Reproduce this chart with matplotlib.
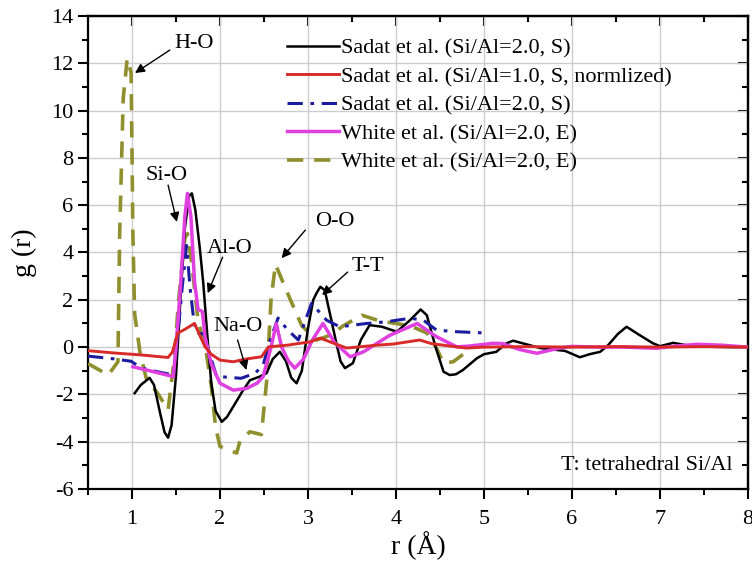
import matplotlib
matplotlib.use("Agg")
import matplotlib.pyplot as plt
from matplotlib.ticker import MultipleLocator

plt.rcParams['font.family'] = ['Liberation Serif', 'DejaVu Serif']
plt.rcParams['axes.unicode_minus'] = False
plt.rcParams['mathtext.fontset'] = 'stix'

# ---- data ----
black_x = [1.03, 1.1, 1.2, 1.25, 1.32, 1.37, 1.41, 1.45, 1.5, 1.55, 1.6, 1.65, 1.68, 1.72, 1.77, 1.81,
           1.86, 1.9, 1.95, 2.02, 2.08, 2.15, 2.25, 2.34, 2.45, 2.53, 2.6, 2.68, 2.75, 2.81, 2.87, 2.93,
           3.0, 3.06, 3.1, 3.14, 3.19, 3.25, 3.32, 3.37, 3.42, 3.51, 3.6, 3.7, 3.84, 4.01, 4.16, 4.28,
           4.35, 4.45, 4.54, 4.61, 4.68, 4.76, 4.92, 5.0, 5.14, 5.25, 5.33, 5.45, 5.64, 5.92, 6.09, 6.2,
           6.32, 6.41, 6.52, 6.62, 6.75, 6.92, 7.0, 7.15, 7.3, 7.5, 7.8, 8.0]
black_y = [-1.95, -1.6, -1.3, -1.6, -2.8, -3.6, -3.83, -3.3, -1.2, 2.0, 5.0, 6.4, 6.5, 5.8, 4.2, 2.7,
           0.3, -1.5, -2.7, -3.16, -2.95, -2.52, -1.9, -1.4, -1.25, -1.1, -0.5, -0.2, -0.6, -1.3, -1.53, -1.0,
           0.8, 2.0, 2.3, 2.55, 2.41, 1.4, 0.2, -0.6, -0.89, -0.68, 0.3, 0.93, 0.86, 0.65, 1.14, 1.59,
           1.35, 0.0, -1.04, -1.18, -1.15, -0.97, -0.47, -0.3, -0.2, 0.15, 0.27, 0.15, -0.04, -0.16, -0.43, -0.3,
           -0.2, 0.08, 0.55, 0.86, 0.55, 0.16, 0.04, 0.18, 0.08, 0.02, 0.0, 0.0]

red_x = [0.5, 0.8, 1.1, 1.41, 1.46, 1.52, 1.6, 1.71, 1.77, 1.83, 1.9, 2.0, 2.15, 2.3, 2.47, 2.55,
         2.76, 3.02, 3.14, 3.3, 3.44, 3.78, 3.97, 4.27, 4.4, 4.54, 4.8, 5.0, 5.5, 6.0, 6.5, 7.0, 7.5, 8.0]
red_y = [-0.15, -0.25, -0.33, -0.44, -0.2, 0.59, 0.75, 1.0, 0.5, 0.01, -0.3, -0.55, -0.62, -0.5, -0.41, 0.01,
         0.08, 0.22, 0.38, 0.15, -0.04, 0.08, 0.13, 0.3, 0.15, 0.08, -0.04, 0.0, 0.02, 0.0, 0.02, 0.0, 0.02, 0.0]

blue_x = [0.5, 0.8, 0.99, 1.05, 1.125, 1.3, 1.47, 1.52, 1.57, 1.62, 1.66, 1.7, 1.73, 1.82, 1.9, 1.96,
          2.0, 2.24, 2.4, 2.49, 2.57, 2.66, 2.77, 2.89, 3.04, 3.21, 3.36, 3.67, 3.89, 4.16, 4.31, 4.46,
          4.69, 5.0]
blue_y = [-0.38, -0.5, -0.6, -0.75, -0.9, -1.05, -1.18, 0.5, 2.5, 4.3, 2.5, 1.2, 0.6, 0.55, -0.5, -1.22,
          -1.25, -1.32, -1.1, -0.76, 0.3, 1.23, 0.72, 0.3, 1.85, 1.14, 0.86, 1.0, 1.07, 1.22, 1.14, 0.72,
          0.65, 0.6]

mag_x = [1.01, 1.2, 1.47, 1.5, 1.55, 1.6, 1.63, 1.67, 1.71, 1.75, 1.8, 1.83, 1.9, 2.0, 2.15, 2.3,
         2.42, 2.49, 2.58, 2.64, 2.7, 2.78, 2.85, 2.95, 3.05, 3.17, 3.3, 3.48, 3.63, 3.93, 4.24, 4.46,
         4.69, 4.85, 5.1, 5.21, 5.4, 5.6, 5.86, 6.0, 6.3, 6.6, 6.96, 7.2, 7.42, 7.7, 8.0]
mag_y = [-0.83, -1.0, -1.25, 0.0, 2.5, 5.5, 6.5, 5.5, 2.8, 1.6, 1.5, 0.44, -0.7, -1.53, -1.82, -1.75,
         -1.53, -1.25, 0.0, 1.0, 0.0, -0.6, -0.89, -0.5, 0.3, 1.0, 0.2, -0.41, -0.2, 0.5, 1.0, 0.44,
         0.01, 0.05, 0.16, 0.15, -0.1, -0.26, -0.04, 0.03, 0.0, 0.0, -0.05, 0.05, 0.12, 0.08, 0.0]

olive_x = [0.5, 0.73, 0.84, 0.86, 0.9, 0.945, 0.99, 1.01, 1.03, 1.09, 1.16, 1.3, 1.41, 1.48, 1.53, 1.6,
           1.63, 1.68, 1.75, 1.84, 1.9, 1.95, 2.0, 2.19, 2.23, 2.34, 2.47, 2.53, 2.58, 2.63, 2.8, 2.93,
           3.1, 3.25, 3.4, 3.61, 3.82, 4.0, 4.16, 4.35, 4.46, 4.54, 4.65, 4.8, 4.9]
olive_y = [-0.7, -1.18, -0.62, 4.8, 10.5, 12.2, 11.6, 4.8, 1.4, -0.2, -1.3, -2.0, -2.66, -0.5, 2.0, 4.6,
           4.8, 3.5, 1.14, -0.13, -1.6, -3.4, -4.2, -4.48, -3.93, -3.58, -3.7, -1.44, 2.0, 3.5, 2.0, 0.9,
           0.3, 0.5, 0.9, 1.35, 1.1, 1.0, 0.9, 0.6, -0.04, -0.68, -0.62, -0.2, 0.1]

labels = ["Sadat et al. (Si/Al=2.0, S)",
          "Sadat et al. (Si/Al=1.0, S, normlized)",
          "Sadat et al. (Si/Al=2.0, S)",
          "White et al. (Si/Al=2.0, E)",
          "White et al. (Si/Al=2.0, E)"]

# ---- figure ----
fig = plt.figure(figsize=(7.52, 5.62), dpi=100)
ax = fig.add_axes([88/752, 1-489/562, 660/752, 473/562])

l_olive, = ax.plot(olive_x, olive_y, color='#8f8f2e', lw=2.6, ls=(0, (4.5, 3)), zorder=3)
l_black, = ax.plot(black_x, black_y, color='black', lw=1.8, zorder=4)
l_blue, = ax.plot(blue_x, blue_y, color='#1c1ca0', lw=2.2, ls=(0, (5, 2.5, 1.2, 2.5)), zorder=5)
l_mag, = ax.plot(mag_x, mag_y, color='#e040e0', lw=2.5, zorder=6)
l_red, = ax.plot(red_x, red_y, color='#d92a2a', lw=2.1, zorder=7)

leg = ax.legend([l_black, l_red, l_blue, l_mag, l_olive], labels,
                loc='upper left', bbox_to_anchor=((287-88)/660, (489-38)/473),
                frameon=False, fontsize=16, handlelength=2.35, handletextpad=0.1,
                labelspacing=0.36, borderpad=0, borderaxespad=0)

ax.set_xlim(0.5, 8)
ax.set_ylim(-6, 14)
ax.xaxis.set_major_locator(MultipleLocator(1))
ax.xaxis.set_minor_locator(MultipleLocator(0.5))
ax.yaxis.set_major_locator(MultipleLocator(2))
ax.yaxis.set_minor_locator(MultipleLocator(1))
ax.grid(True, which='major', color='#cccccc', lw=1.0)
ax.set_axisbelow(True)

for sp in ax.spines.values():
    sp.set_linewidth(1.6)

ax.tick_params(which='both', labelsize=16, width=1.5)
ax.tick_params(which='major', length=7)
ax.tick_params(which='minor', length=4)
ax.tick_params(which='both', direction='out', top=False, right=False)
ax.tick_params(axis='x', pad=8)
axt = ax.secondary_xaxis('top')
axt.xaxis.set_major_locator(MultipleLocator(1))
axt.xaxis.set_minor_locator(MultipleLocator(0.5))
axt.tick_params(which='both', direction='in', labeltop=False, width=1.5)
axt.tick_params(which='major', length=7)
axt.tick_params(which='minor', length=4)
axr = ax.secondary_yaxis('right')
axr.yaxis.set_major_locator(MultipleLocator(2))
axr.yaxis.set_minor_locator(MultipleLocator(1))
axr.tick_params(which='both', direction='in', labelright=False, width=1.5)
axr.tick_params(which='major', length=7)
axr.tick_params(which='minor', length=4)
for a in (axt, axr):
    for sp in a.spines.values():
        sp.set_linewidth(1.6)

ax.set_xlabel("r (Å)", fontsize=20, labelpad=2)
ax.set_ylabel("g (r)", fontsize=20, labelpad=10)

# ---- annotations ----
arrow_kw = dict(arrowstyle='-|>', color='black', lw=1.0, mutation_scale=14,
                shrinkA=0, shrinkB=0)
notes = [("H-O", (1.70, 12.85), (1.43, 12.56), (1.034, 11.59)),
         ("Si-O", (1.39, 7.27), (1.41, 6.85), (1.51, 5.29)),
         ("Al-O", (2.11, 4.19), (2.03, 3.8), (1.86, 2.28)),
         ("O-O", (3.30, 5.29), (2.97, 4.95), (2.70, 3.76)),
         ("T-T", (3.68, 3.42), (3.45, 3.17), (3.16, 2.2)),
         ("Na-O", (2.20, 0.89), (2.2, 0.3), (2.3, -0.97))]
for txt, tpos, tail, tip in notes:
    ax.text(tpos[0], tpos[1], txt, fontsize=16, ha='center', va='center', zorder=10)
    ax.annotate('', xy=tip, xytext=tail, arrowprops=arrow_kw, zorder=10)

ax.text(7.83, -5.0, "T: tetrahedral Si/Al", fontsize=16, ha='right', va='center')

fig.savefig("out.png", dpi=100)
